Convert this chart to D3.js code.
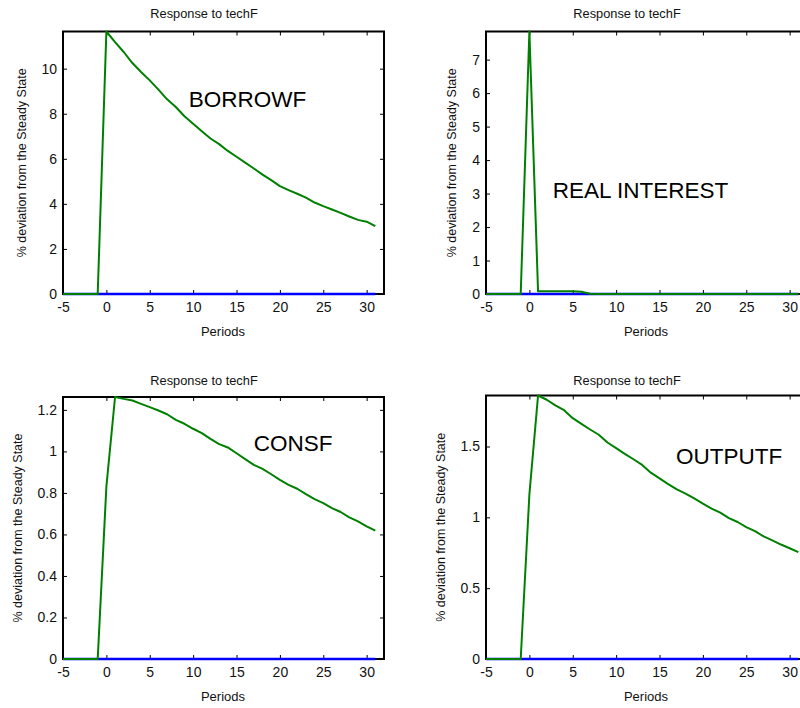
<!DOCTYPE html>
<html>
<head>
<meta charset="utf-8">
<script src="https://cdn.jsdelivr.net/npm/d3@7"></script>
<style>
  html, body { margin: 0; padding: 0; background: #fff; }
  svg { display: block; font-family: "Liberation Sans", Arial, sans-serif; }
</style>
</head>
<body>
<div id="chart"></div>
<script>
// periods after the shock
const periods = [-5, -4, -3, -2, -1, 0, 1, 2, 3, 4, 5, 6, 7, 8, 9, 10, 11, 12, 13, 14, 15,
  16, 17, 18, 19, 20, 21, 22, 23, 24, 25, 26, 27, 28, 29, 30, 31];

// steady state (blue) line
const steadyState = [0, 0, 0, 0, 0, 0, 0, 0, 0, 0, 0, 0, 0, 0, 0, 0, 0, 0, 0, 0, 0,
  0, 0, 0, 0, 0, 0, 0, 0, 0, 0, 0, 0, 0, 0, 0, 0];

// responses (green)
const borrowf = [0, 0, 0, 0, 0, 11.65, 11.18, 10.74, 10.25, 9.85, 9.48, 9.07, 8.64, 8.30,
  7.89, 7.56, 7.22, 6.90, 6.65, 6.35, 6.09, 5.83, 5.57, 5.30, 5.05, 4.79, 4.61, 4.45,
  4.28, 4.06, 3.90, 3.75, 3.60, 3.44, 3.29, 3.21, 3.01];

const realInterest = [0, 0, 0, 0, 0, 7.84, 0.08, 0.08, 0.08, 0.08, 0.08, 0.07, 0.01, 0,
  0, 0, 0, 0, 0, 0, 0, 0, 0, 0, 0, 0, 0, 0, 0, 0, 0, 0, 0, 0, 0, 0, 0];

const consf = [0, 0, 0, 0, 0, 0.83, 1.262, 1.253, 1.245, 1.229, 1.213, 1.197, 1.179,
  1.152, 1.133, 1.109, 1.088, 1.060, 1.035, 1.019, 0.991, 0.963, 0.935, 0.916, 0.890,
  0.863, 0.839, 0.820, 0.794, 0.770, 0.751, 0.727, 0.708, 0.682, 0.663, 0.639, 0.618];

const outputf = [0, 0, 0, 0, 0, 1.16, 1.86, 1.83, 1.79, 1.756, 1.70, 1.66, 1.62, 1.583,
  1.528, 1.488, 1.448, 1.41, 1.37, 1.315, 1.275, 1.235, 1.197, 1.168, 1.133, 1.097,
  1.062, 1.033, 0.995, 0.967, 0.931, 0.903, 0.865, 0.837, 0.808, 0.782, 0.754];

// tick labels
const xTicks = [-5, 0, 5, 10, 15, 20, 25, 30];
const borrowTicks = [0, 2, 4, 6, 8, 10];
const interestTicks = [0, 1, 2, 3, 4, 5, 6, 7];
const consTicks = [0, 0.2, 0.4, 0.6, 0.8, 1, 1.2];
const outputTicks = [0, 0.5, 1, 1.5];

const W = 800, H = 708;
const PW = 321;

const panels = [
  { values: borrowf, ticks: borrowTicks, name: "BORROWF", at: [9.5, 8.3],
    left: 63, top: 31.5, bottom: 294, ylabX: 26, titleY: 18, perY: 336 },
  { values: realInterest, ticks: interestTicks, name: "REAL INTEREST", at: [2.7, 2.86],
    left: 486, top: 31.5, bottom: 294, ylabX: 456, titleY: 18, perY: 336 },
  { values: consf, ticks: consTicks, name: "CONSF", at: [17, 1.0],
    left: 63, top: 397, bottom: 659, ylabX: 22, titleY: 385, perY: 701 },
  { values: outputf, ticks: outputTicks, name: "OUTPUTF", at: [16.9, 1.376],
    left: 486, top: 395.5, bottom: 659, ylabX: 445, titleY: 385, perY: 701 }
];

const svg = d3.select("#chart").append("svg")
  .attr("width", W)
  .attr("height", H);

// plain hyphen for negatives, like the original
const fmt = d => String(+d.toFixed(2));

panels.forEach(p => {
  const x = d3.scaleLinear().domain([-5, 32]).range([p.left, p.left + PW]);
  const yMax = d3.max(p.values);
  const y = d3.scaleLinear().domain([0, yMax]).range([p.bottom, p.top]);

  const g = svg.append("g");

  // inward ticks on all four sides
  const axB = g.append("g").attr("transform", `translate(0,${p.bottom})`)
    .call(d3.axisBottom(x).tickValues(xTicks).tickSize(-4).tickPadding(8).tickFormat(fmt));
  const axT = g.append("g").attr("transform", `translate(0,${p.top})`)
    .call(d3.axisTop(x).tickValues(xTicks).tickSize(-4).tickFormat(""));
  const axL = g.append("g").attr("transform", `translate(${p.left},0)`)
    .call(d3.axisLeft(y).tickValues(p.ticks).tickSize(-4).tickPadding(6).tickFormat(fmt));
  const axR = g.append("g").attr("transform", `translate(${p.left + PW},0)`)
    .call(d3.axisRight(y).tickValues(p.ticks).tickSize(-4).tickFormat(""));

  [axB, axT, axL, axR].forEach(a => {
    a.select(".domain").remove();
    a.selectAll(".tick line").attr("stroke", "#000").attr("stroke-width", 1);
    a.selectAll(".tick text")
      .attr("fill", "#111")
      .attr("font-size", 14)
      .attr("font-family", "Liberation Sans, Arial, sans-serif");
  });

  // box
  g.append("rect")
    .attr("x", p.left).attr("y", p.top)
    .attr("width", PW).attr("height", p.bottom - p.top)
    .attr("fill", "none")
    .attr("stroke", "#000")
    .attr("stroke-width", 2);

  const line = d3.line()
    .x((d, i) => x(periods[i]))
    .y(d => y(d));

  g.append("path")
    .datum(steadyState)
    .attr("d", line)
    .attr("fill", "none")
    .attr("stroke", "#0000ff")
    .attr("stroke-width", 2.5);

  g.append("path")
    .datum(p.values)
    .attr("d", line)
    .attr("fill", "none")
    .attr("stroke", "#008000")
    .attr("stroke-width", 2)
    .attr("stroke-linejoin", "round");

  // texts
  g.append("text")
    .attr("x", p.left + 141).attr("y", p.titleY)
    .attr("text-anchor", "middle")
    .attr("font-size", 12.8)
    .attr("fill", "#111")
    .text("Response to techF");

  g.append("text")
    .attr("x", p.left + 160).attr("y", p.perY)
    .attr("text-anchor", "middle")
    .attr("font-size", 13)
    .attr("fill", "#111")
    .text("Periods");

  g.append("text")
    .attr("transform", `translate(${p.ylabX},${(p.top + p.bottom) / 2}) rotate(-90)`)
    .attr("text-anchor", "middle")
    .attr("font-size", 12.5)
    .attr("fill", "#111")
    .text("% deviation from the Steady State");

  g.append("text")
    .attr("x", x(p.at[0])).attr("y", y(p.at[1]))
    .attr("font-size", 22.5)
    .attr("fill", "#000")
    .text(p.name);
});
</script>
</body>
</html>
